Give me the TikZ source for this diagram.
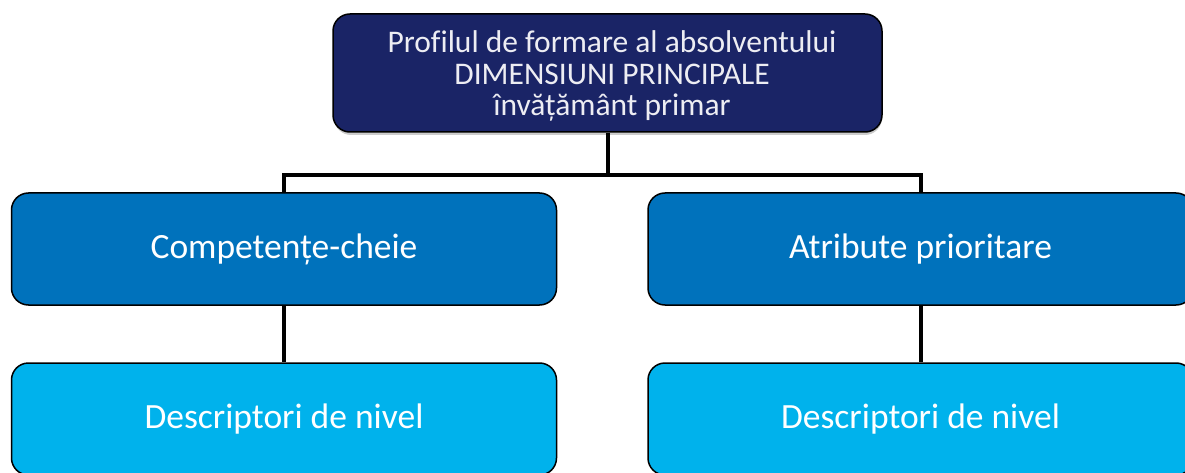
\documentclass[tikz,border=0pt]{standalone}
\usepackage{fontspec}
\setmainfont{Carlito}[Ligatures=NoCommon]
\definecolor{navy}{HTML}{1A2466}
\definecolor{midblue}{HTML}{0072BC}
\definecolor{lightblue}{HTML}{00B2EC}
\tikzset{
  basebox/.style={draw=black, line width=1.5pt, rounded corners=17pt, text=white, align=center, inner sep=0pt},
  topbox/.style={basebox, fill=navy, text=white!92!navy, minimum width=549pt, minimum height=118pt, font=\fontsize{31.5}{31.5}\selectfont},
  dimbox/.style={basebox, fill=midblue, minimum width=545pt, minimum height=112pt, font=\fontsize{35.5}{40}\selectfont},
  descbox/.style={basebox, fill=lightblue, minimum width=545pt, minimum height=112pt, font=\fontsize{35.5}{40}\selectfont},
  conn/.style={draw=black, line width=4pt, line join=miter}
}
\begin{document}
\begin{tikzpicture}[x=1pt,y=-1pt]
\useasboundingbox (0,0) rectangle (1185,473);
\clip (0,0) rectangle (1185,473);
\fill[gray!40, rounded corners=17pt] (334,17) rectangle (882,135);
\node[topbox] (top) at (607.5,73) {};
\node[text=white!92!navy, align=center, font=\fontsize{31.5}{31.5}\selectfont, inner sep=0pt] (toptext) at (612,76) {Profilul de formare al absolventului\\DIMENSIUNI PRINCIPALE\\învățământ primar};
\node[dimbox] (l1) at (284,249) {Competențe-cheie};
\node[dimbox] (r1) at (920.5,249) {Atribute prioritare};
\node[descbox] (l2) at (284,419) {Descriptori de nivel};
\node[descbox] (r2) at (920.5,419) {Descriptori de nivel};
\coordinate (hy) at (0,175);
\draw[conn] (top.south) -- (top.south |- hy);
\draw[conn] (l1.north) -- (l1.north |- hy) -- (r1.north |- hy) -- (r1.north);
\draw[conn] (l1.south) -- (l2.north);
\draw[conn] (r1.south) -- (r2.north);
\end{tikzpicture}
\end{document}
